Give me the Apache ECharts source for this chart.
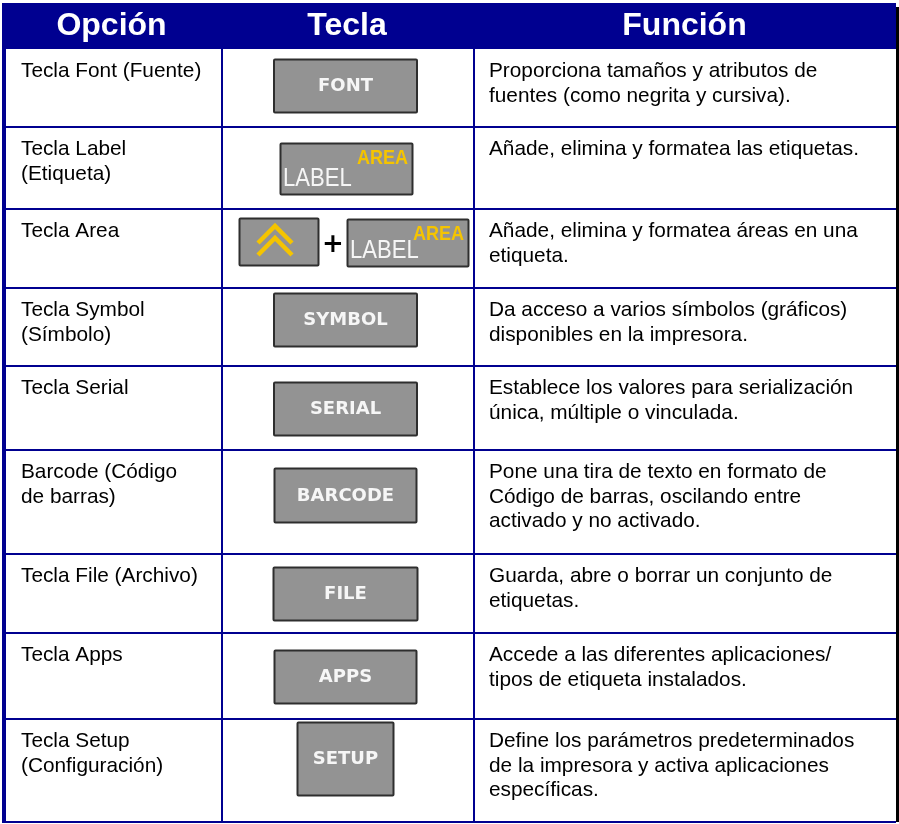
<!DOCTYPE html>
<html><head><meta charset="utf-8">
<script src="https://cdn.jsdelivr.net/npm/echarts@6/dist/echarts.min.js"></script>
<style>html,body{margin:0;padding:0;background:#fff}#c{width:899px;height:824px}</style>
</head><body><div id="c"></div>
<script>
// ---- content ----
const headers = ['Opción', 'Tecla', 'Función'];
const options = [
  ['Tecla Font (Fuente)'],
  ['Tecla Label', '(Etiqueta)'],
  ['Tecla Area'],
  ['Tecla Symbol', '(Símbolo)'],
  ['Tecla Serial'],
  ['Barcode (Código', 'de barras)'],
  ['Tecla File (Archivo)'],
  ['Tecla Apps'],
  ['Tecla Setup', '(Configuración)']
];
const keys = ['FONT', 'LABEL', 'SHIFT+LABEL', 'SYMBOL', 'SERIAL', 'BARCODE', 'FILE', 'APPS', 'SETUP'];
const keySub = 'AREA';
const functions = [
  ['Proporciona tamaños y atributos de', 'fuentes (como negrita y cursiva).'],
  ['Añade, elimina y formatea las etiquetas.'],
  ['Añade, elimina y formatea áreas en una', 'etiqueta.'],
  ['Da acceso a varios símbolos (gráficos)', 'disponibles en la impresora.'],
  ['Establece los valores para serialización', 'única, múltiple o vinculada.'],
  ['Pone una tira de texto en formato de', 'Código de barras, oscilando entre', 'activado y no activado.'],
  ['Guarda, abre o borrar un conjunto de', 'etiquetas.'],
  ['Accede a las diferentes aplicaciones/', 'tipos de etiqueta instalados.'],
  ['Define los parámetros predeterminados', 'de la impresora y activa aplicaciones', 'específicas.']
];

// ---- layout (not data) ----
const rowHeights = [78, 82, 79, 78, 84, 104, 79, 86, 103];
const L = {
  left: 2, right: 896, headTop: 3, headBottom: 49, bottom: 823,
  col1: 221, col2: 473, textX1: 21, textX3: 489, firstLine: 22.5, lineH: 24.5,
  keyCx: 345
};
// key button boxes: [offset from row top, width, height]
const keyBox = [[10,144,54],[16,133,52],[9,0,48],[5,144,54],[16,144,54],[18,143,55],[13,145,54],[17,143,54],[3,97,74]];

const BLUE = '#000090', GRAY = '#939393', EDGE = '#2e2e2e', YEL = '#f5c400', KEYTXT = '#f6f6f6';
const FONT = '"Liberation Sans", Arial, sans-serif';

const rowData = [];
let acc = L.headBottom;
rowHeights.forEach((h, i) => { rowData.push([i, acc, acc + h]); acc += h; });

function txt(x, y, s, opt) {
  return { type: 'text', silent: true, style: Object.assign({ text: s, x, y, fill: '#000', font: '20.8px ' + FONT, align: 'left', verticalAlign: 'middle' }, opt || {}) };
}
function stxt(x, y, s, sx, opt) {
  const el = txt(0, 0, s, opt);
  el.x = x; el.y = y; el.scaleX = sx;
  return el;
}
function btn(x, y, w, h) {
  return { type: 'rect', silent: true, shape: { x: x + 0.5, y: y + 0.5, width: w - 1, height: h - 1, r: 1 }, style: { fill: GRAY, stroke: EDGE, lineWidth: 2 } };
}
function labelKey(x, y, w, h) {
  return [
    btn(x, y, w, h),
    stxt(x + 3, y + h - 3, 'LABEL', 0.85, { fill: KEYTXT, font: '26px ' + FONT, verticalAlign: 'bottom' }),
    stxt(x + w - 5, y + 5, keySub, 0.9, { fill: YEL, font: 'bold 20px ' + FONT, align: 'right', verticalAlign: 'top' })
  ];
}

function renderRow(params, api) {
  const i = api.value(0);
  const p0 = api.coord([0, api.value(1)]);
  const p1 = api.coord([0, api.value(2)]);
  const top = p0[1], bot = p1[1];
  const ch = [];
  options[i].forEach((s, k) => ch.push(txt(L.textX1, top + L.firstLine + k * L.lineH, s)));
  functions[i].forEach((s, k) => ch.push(txt(L.textX3, top + L.firstLine + k * L.lineH, s)));
  const kb = keyBox[i];
  const k = keys[i];
  if (k === 'LABEL') {
    ch.push(...labelKey(L.keyCx + 1.5 - kb[1] / 2, top + kb[0], kb[1], kb[2]));
  } else if (k === 'SHIFT+LABEL') {
    const y = top + kb[0];
    ch.push(btn(239, y, 80, 48));
    const cx = 275, cy = y + 8;
    [0, 12].forEach(d => ch.push({ type: 'polyline', silent: true,
      shape: { points: [[cx - 17, cy + 17 + d], [cx, cy + d], [cx + 17, cy + 17 + d]] },
      style: { stroke: YEL, lineWidth: 4.5, fill: null, lineCap: 'butt', lineJoin: 'miter' } }));
    ch.push(txt(333, y + 27, '+', { fill: '#000', font: 'bold 26px "DejaVu Sans", sans-serif', align: 'center' }));
    ch.push(...labelKey(347, y + 1, 122, 48));
  } else {
    const x = L.keyCx + 0.5 - kb[1] / 2, y = top + kb[0];
    ch.push(btn(x, y, kb[1], kb[2]));
    ch.push(txt(x + kb[1] / 2, y + kb[2] / 2 + 0.5, k, { fill: KEYTXT, font: 'bold 18px "DejaVu Sans", sans-serif', align: 'center' }));
  }
  if (i < rowHeights.length - 1) {
    ch.push({ type: 'rect', silent: true, shape: { x: L.left, y: bot - 1, width: L.right - L.left, height: 2 }, style: { fill: BLUE } });
  }
  return { type: 'group', children: ch };
}

function renderFrame(params, api) {
  const ch = [];
  const bottom = api.coord([0, L.bottom])[1];
  ch.push({ type: 'rect', silent: true, shape: { x: L.left, y: L.headTop, width: L.right - L.left, height: L.headBottom - L.headTop }, style: { fill: BLUE } });
  const cols = [[L.left, L.col1], [L.col1, L.col2], [L.col2, L.right]];
  headers.forEach((h, k) => ch.push(txt((cols[k][0] + cols[k][1]) / 2, 26, h, { fill: '#fff', font: 'bold 32px ' + FONT, align: 'center' })));
  ch.push({ type: 'rect', silent: true, shape: { x: L.left, y: L.headBottom, width: 4, height: bottom - L.headBottom }, style: { fill: BLUE } });
  ch.push({ type: 'rect', silent: true, shape: { x: L.col1, y: L.headBottom, width: 2, height: bottom - L.headBottom }, style: { fill: BLUE } });
  ch.push({ type: 'rect', silent: true, shape: { x: L.col2, y: L.headBottom, width: 2, height: bottom - L.headBottom }, style: { fill: BLUE } });
  ch.push({ type: 'rect', silent: true, shape: { x: L.left, y: bottom - 2, width: L.right - L.left, height: 2 }, style: { fill: BLUE } });
  ch.push({ type: 'rect', silent: true, shape: { x: L.right, y: 7, width: 3, height: bottom - 8 }, style: { fill: '#000' } });
  return { type: 'group', children: ch };
}

const chart = echarts.init(document.getElementById('c'), null, { renderer: 'canvas' });
chart.setOption({
  animation: false,
  backgroundColor: '#fff',
  grid: { left: 0, right: 0, top: 0, bottom: 0 },
  xAxis: { type: 'value', min: 0, max: 899, show: false },
  yAxis: { type: 'value', min: 0, max: 824, inverse: true, show: false },
  series: [
    { type: 'custom', renderItem: renderRow, data: rowData, clip: false, z: 2 },
    { type: 'custom', renderItem: renderFrame, data: [[0, 0, 0]], clip: false, z: 3 }
  ]
});
</script></body></html>
